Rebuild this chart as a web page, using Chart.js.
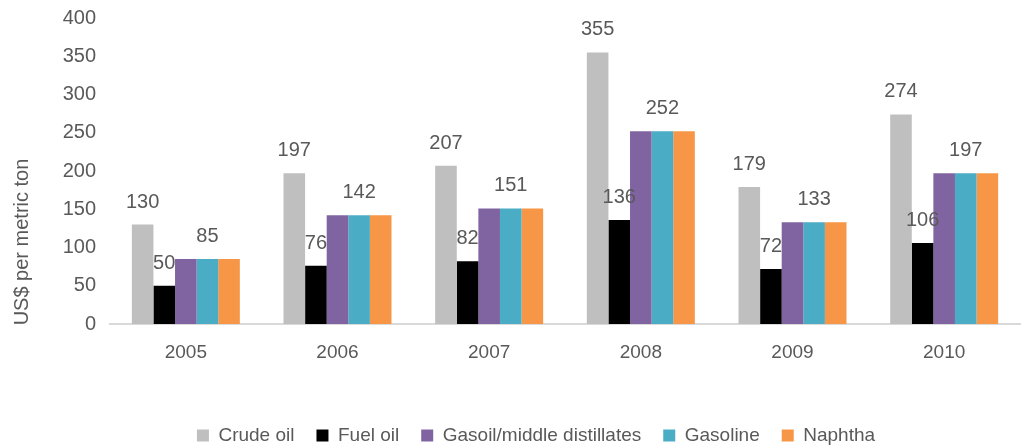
<!DOCTYPE html>
<html>
<head>
<meta charset="utf-8">
<script src="https://cdn.jsdelivr.net/npm/chart.js@4.4.0/dist/chart.umd.min.js"></script>
<style>
  html, body { margin: 0; padding: 0; background: #fff; }
  #wrap { width: 1028px; height: 448px; }
</style>
</head>
<body>
<div id="wrap"><canvas id="priceChart" width="1028" height="448"></canvas></div>
<script>
const years = ["2005", "2006", "2007", "2008", "2009", "2010"];
const crudeOil = [130, 197, 207, 355, 179, 274];
const fuelOil = [50, 76, 82, 136, 72, 106];
const gasoil = [85, 142, 151, 252, 133, 197];
const gasoline = [85, 142, 151, 252, 133, 197];
const naphtha = [85, 142, 151, 252, 133, 197];
const yTicks = [0, 50, 100, 150, 200, 250, 300, 350, 400];

const FONT = "'Liberation Sans', Arial, sans-serif";
const TXT = "#595959";

// labels only on crude oil, fuel oil and gasoline (middle of the 3 equal bars)
const labelPlugin = {
  id: "barLabels",
  afterLayout(chart) {
    // legend sits a bit right of centre in the original
    chart.legend.left += 26;
    chart.legend.right += 26;
  },
  afterDatasetsDraw(chart) {
    const c = chart.ctx;
    c.save();
    c.font = "20px " + FONT;
    c.fillStyle = TXT;
    c.textAlign = "center";
    c.textBaseline = "alphabetic";
    [0, 1, 3].forEach(i => {
      const meta = chart.getDatasetMeta(i);
      meta.data.forEach((bar, j) => {
        c.fillText(chart.data.datasets[i].data[j], bar.x, bar.y - 17);
      });
    });
    // y axis title
    c.translate(22, 242);
    c.rotate(-Math.PI / 2);
    c.textBaseline = "middle";
    c.fillText("US$ per metric ton", 0, 0);
    c.restore();
  }
};

const ctx = document.getElementById("priceChart").getContext("2d");
new Chart(ctx, {
  type: "bar",
  data: {
    labels: years,
    datasets: [
      { label: "Crude oil", data: crudeOil, backgroundColor: "#BFBFBF" },
      { label: "Fuel oil", data: fuelOil, backgroundColor: "#000000" },
      { label: "Gasoil/middle distillates", data: gasoil, backgroundColor: "#8064A2" },
      { label: "Gasoline", data: gasoline, backgroundColor: "#4BACC6" },
      { label: "Naphtha", data: naphtha, backgroundColor: "#F79646" }
    ]
  },
  options: {
    responsive: false,
    animation: false,
    layout: { padding: { top: 18, right: 8, left: 0, bottom: -7 } },
    datasets: { bar: { categoryPercentage: 0.712, barPercentage: 1.0 } },
    plugins: {
      tooltip: { enabled: false },
      legend: {
        position: "bottom",
        labels: {
          font: { size: 19, family: FONT },
          color: TXT,
          boxWidth: 12,
          boxHeight: 12,
          padding: 22
        }
      }
    },
    scales: {
      x: {
        grid: { display: false, drawTicks: false },
        border: { color: "#D9D9D9", width: 2 },
        ticks: { font: { size: 19, family: FONT }, color: TXT, padding: 17 },
        afterFit: s => { s.height = 80; }
      },
      y: {
        min: 0,
        max: 400,
        afterBuildTicks: axis => { axis.ticks = yTicks.map(v => ({ value: v })); },
        grid: { display: false, drawTicks: false },
        border: { display: false },
        ticks: { font: { size: 20, family: FONT }, color: TXT, padding: 14 },
        afterFit: s => { s.width = 110; s.paddingTop = 0; s.paddingBottom = 0; }
      }
    }
  },
  plugins: [labelPlugin]
});
</script>
</body>
</html>
